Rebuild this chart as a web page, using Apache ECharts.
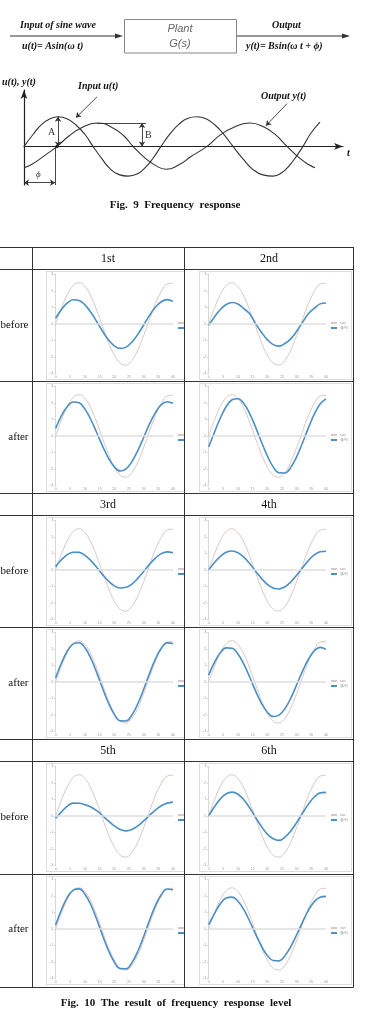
<!DOCTYPE html>
<html><head><meta charset="utf-8">
<script src="https://cdn.jsdelivr.net/npm/echarts@6/dist/echarts.min.js"></script>
<style>
html,body{margin:0;padding:0;background:#fff;}
#main{position:absolute;left:0;top:0;width:377px;height:1024px;}
.clip{position:absolute;overflow:hidden;}
.inner{position:absolute;box-sizing:border-box;border:1px solid #dcdcdc;background:#fff;}
</style></head>
<body>
<div id="main"></div>
<div id="cells"></div>
<script>
// ---------- DATA ----------
// schematic (Fig. 9): time in px-like units from origin, amplitude in units of A
const inT  = [0, 9, 17, 26, 34, 43, 52, 61, 69, 78, 86, 95, 104, 113, 121, 129, 137, 146, 155, 164, 173, 182, 191, 200, 209, 219, 229, 239, 249, 258, 266, 273, 279, 287, 296];
const inU  = [0, 0.4, 0.72, 0.93, 1.0, 0.93, 0.72, 0.4, 0, -0.42, -0.75, -0.95, -1.0, -0.93, -0.72, -0.4, 0, 0.42, 0.75, 0.95, 1.0, 0.93, 0.72, 0.4, 0, -0.42, -0.78, -0.96, -1.0, -0.88, -0.62, -0.3, 0, 0.45, 0.82];
const outT = [0, 8, 16, 25, 33, 45, 58, 73, 88, 100, 109, 120, 131, 142, 155, 167, 183, 196, 211, 226, 240, 252, 263, 275, 285, 291];
const outY = [-0.72, -0.6, -0.42, -0.2, 0, 0.35, 0.64, 0.79, 0.64, 0.35, 0, -0.36, -0.63, -0.77, -0.62, -0.34, 0, 0.38, 0.66, 0.79, 0.65, 0.38, 0, -0.38, -0.62, -0.72];

// Fig. 10 small charts
const tSteps  = [0,2,4,6,8,10,12,14,16,18,20,22,24,26,28,30,32,34,36,38,40];
const refWave = [0, 0.97, 1.79, 2.33, 2.50, 2.27, 1.69, 0.84, -0.15, -1.11, -1.89, -2.38, -2.49, -2.21, -1.58, -0.70, 0.29, 1.24, 1.98, 2.42, 2.47];
const out1Before = [0.35, 0.88, 1.28, 1.47, 1.43, 1.16, 0.71, 0.15, -0.44, -0.96, -1.32, -1.48, -1.40, -1.10, -0.63, -0.06, 0.52, 1.01, 1.35, 1.48, 1.37];
const out1After  = [0.46, 1.24, 1.79, 2.06, 2.01, 1.63, 1.00, 0.21, -0.61, -1.34, -1.87, -2.12, -1.99, -1.55, -0.89, -0.09, 0.73, 1.42, 1.90, 2.08, 1.98];
const out2Before = [-0.08, 0.43, 0.88, 1.18, 1.30, 1.21, 0.93, 0.62, 0.02, -0.50, -0.95, -1.25, -1.34, -1.18, -0.90, -0.44, 0.10, 0.62, 0.95, 1.22, 1.27];
const out2After  = [-0.67, 0.23, 1.09, 1.79, 2.20, 2.26, 1.97, 1.36, 0.54, -0.36, -1.21, -1.87, -2.23, -2.24, -1.90, -1.26, -0.41, 0.49, 1.32, 1.94, 2.25];
const out3Before = [0.22, 0.62, 0.93, 1.08, 1.07, 0.89, 0.57, 0.16, -0.28, -0.67, -0.96, -1.09, -1.05, -0.85, -0.51, -0.09, 0.34, 0.72, 0.99, 1.10, 1.04];
const out3After  = [0.24, 1.15, 1.88, 2.31, 2.38, 2.07, 1.44, 0.57, -0.38, -1.27, -1.96, -2.35, -2.36, -2.00, -1.32, -0.44, 0.52, 1.39, 2.04, 2.37, 2.33];
const out4Before = [0, 0.45, 0.82, 1.07, 1.15, 1.05, 0.78, 0.39, -0.07, -0.51, -0.87, -1.09, -1.15, -1.02, -0.73, -0.32, 0.13, 0.57, 0.91, 1.11, 1.14];
const out4After  = [0.42, 1.19, 1.77, 2.07, 2.05, 1.70, 1.08, 0.30, -0.54, -1.29, -1.83, -2.09, -2.01, -1.62, -0.98, -0.17, 0.66, 1.38, 1.89, 2.10, 1.98];
const out5Before = [-0.14, 0.25, 0.60, 0.78, 0.77, 0.68, 0.55, 0.32, 0.02, -0.30, -0.60, -0.82, -0.90, -0.82, -0.60, -0.30, 0.04, 0.36, 0.62, 0.78, 0.84];
const out5After  = [0.24, 1.17, 1.92, 2.36, 2.43, 2.11, 1.47, 0.59, -0.39, -1.30, -2.00, -2.40, -2.41, -2.04, -1.35, -0.45, 0.53, 1.42, 2.08, 2.42, 2.38];
const out6Before = [0, 0.56, 1.04, 1.35, 1.45, 1.32, 0.98, 0.49, -0.08, -0.64, -1.10, -1.38, -1.48, -1.28, -0.91, -0.40, 0.17, 0.72, 1.15, 1.40, 1.43];
const out6After  = [0.26, 0.93, 1.53, 1.88, 1.93, 1.68, 1.17, 0.47, -0.31, -1.03, -1.60, -1.91, -1.93, -1.62, -1.07, -0.35, 0.42, 1.13, 1.66, 1.93, 1.98];
const colHeads = ['1st','2nd','3rd','4th','5th','6th'];
const rowHeads = ['before','after'];
const legendNames = ['raw','출력'];
const xTickStep = 5;

// ---------- MAIN (schematic + table) ----------
const main = echarts.init(document.getElementById('main'), null, {renderer:'canvas'});
const serifBI = 'italic bold 10px "Liberation Serif"';
const g = [];
function txt(text,x,y,font,opt){ g.push({type:'text',silent:true,style:{text:text,x:x,y:y,font:font,fill:'#111',textAlign:'left',textVerticalAlign:'middle'}});
  if(opt) Object.assign(g[g.length-1].style,opt); }
function ln(x1,y1,x2,y2,c,w){ g.push({type:'line',silent:true,shape:{x1:x1,y1:y1,x2:x2,y2:y2},style:{stroke:c||'#333',lineWidth:w||1}}); }
// block diagram
ln(10,36,117,36,'#333',1);
g.push({type:'polygon',silent:true,shape:{points:[[123,36],[115,33.5],[115,38.5]]},style:{fill:'#333'}});
g.push({type:'rect',silent:true,shape:{x:124.5,y:19.5,width:112,height:33.5},style:{fill:'none',stroke:'#888',lineWidth:1}});
ln(237,36,344,36,'#333',1);
g.push({type:'polygon',silent:true,shape:{points:[[350,36],[342,33.5],[342,38.5]]},style:{fill:'#333'}});
txt('Input of sine wave',20,25.5,serifBI);
txt('u(t)= Asin(ω t)',22,46.5,serifBI);
txt('Output',272,25,serifBI);
txt('y(t)= Bsin(ω t + ϕ)',246,46.5,serifBI);
txt('Plant',180,29,'italic 11px "Liberation Sans"',{textAlign:'center',fill:'#666'});
txt('G(s)',180,44,'italic 11px "Liberation Sans"',{textAlign:'center',fill:'#666'});
// schematic labels
txt('u(t), y(t)',2,82,serifBI);
txt('Input u(t)',78,86,serifBI);
txt('Output y(t)',261,96,serifBI);
txt('t',347,153,serifBI);
txt('A',48,132,'10px "Liberation Serif"',{fill:'#333'});
txt('B',145,135,'10px "Liberation Serif"',{fill:'#333'});
txt('ϕ',36,175,'italic 9px "Liberation Serif"',{fill:'#333'});
txt('Fig.  9  Frequency  response',175,205,'bold 11px "Liberation Serif"',{textAlign:'center'});
txt('Fig.  10  The  result  of  frequency  response  level',176,1003,'bold 11px "Liberation Serif"',{textAlign:'center'});
// table
const hLines=[247,269,381,493,515,627,739,761,874,987];
hLines.forEach(y=>ln(0,y+0.5,353.5,y+0.5,'#333',1));
[32,184,353].forEach(x=>ln(x+0.5,247,x+0.5,987.5,'#333',1));
const groupTop=[247,493,739];
groupTop.forEach((gy,i)=>{
  txt(colHeads[2*i],108,gy+12,'12px "Liberation Serif"',{textAlign:'center'});
  txt(colHeads[2*i+1],269,gy+12,'12px "Liberation Serif"',{textAlign:'center'});
  txt(rowHeads[0],28.5,gy+22+56,'11px "Liberation Serif"',{textAlign:'right'});
  txt(rowHeads[1],28.5,gy+22+112+56,'11px "Liberation Serif"',{textAlign:'right'});
});

main.setOption({
  animation:false,
  grid:[{left:24,top:90,width:319,height:95}],
  xAxis:[{type:'value',min:0,max:319,axisLine:{show:true,onZero:true,symbol:['none','arrow'],symbolSize:[5,9],lineStyle:{color:'#222',width:1.2}},axisTick:{show:false},axisLabel:{show:false},splitLine:{show:false}}],
  yAxis:[{type:'value',min:-1.3,max:1.9,axisLine:{show:true,symbol:['none','arrow'],symbolSize:[5,9],lineStyle:{color:'#222',width:1.2}},axisTick:{show:false},axisLabel:{show:false},splitLine:{show:false}}],
  series:[
    {type:'line',smooth:true,symbol:'none',data:inT.map((t,i)=>[t,inU[i]]),lineStyle:{color:'#333',width:1.1},
     markLine:{silent:true,animation:false,symbolSize:5,label:{show:false},lineStyle:{color:'#333',width:0.9,type:'solid'},
       data:[
         [{coord:[34,0],symbol:'arrow'},{coord:[34,1.0],symbol:'arrow'}],
         [{coord:[118,0],symbol:'arrow'},{coord:[118,0.79],symbol:'arrow'}],
         [{coord:[73,0.79],symbol:'none'},{coord:[122,0.79],symbol:'none'}],
         [{coord:[31,0],symbol:'none'},{coord:[31,-1.3],symbol:'none'}],
         [{coord:[0,-1.22],symbol:'arrow'},{coord:[31,-1.22],symbol:'arrow'}],
         [{coord:[73,1.67],symbol:'none'},{coord:[52,0.97],symbol:'arrow'}],
         [{coord:[263,1.44],symbol:'none'},{coord:[242,0.70],symbol:'arrow'}]
       ]}},
    {type:'line',smooth:true,symbol:'none',data:outT.map((t,i)=>[t,outY[i]]),lineStyle:{color:'#333',width:1.1},
     markPoint:{silent:true,symbol:'circle',symbolSize:3.5,itemStyle:{color:'#222'},label:{show:false},data:[{coord:[outT[4],outY[4]]}]}}
  ],
  graphic:g
});

// ---------- SMALL CHARTS ----------
const outs=[[out1Before,out2Before],[out1After,out2After],[out3Before,out4Before],[out3After,out4After],[out5Before,out6Before],[out5After,out6After]];
const rowTops=[269,381,515,627,761,874];
const cells=document.getElementById('cells');
rowTops.forEach((rt,r)=>{
  [0,1].forEach(c=>{
    const clip=document.createElement('div'); clip.className='clip';
    const cl = c===0?33:185, cw = c===0?151:168;
    clip.style.left=cl+'px'; clip.style.top=(rt+1)+'px'; clip.style.width=cw+'px'; clip.style.height='111px';
    const inner=document.createElement('div'); inner.className='inner';
    const il = c===0?45.5:199;
    inner.style.left=(il-cl)+'px'; inner.style.top='1px'; inner.style.width='153px'; inner.style.height='109px';
    clip.appendChild(inner); cells.appendChild(clip);
    const ch=echarts.init(inner,null,{renderer:'canvas'});
    const blue=outs[r][c];
    ch.setOption({
      animation:false,
      grid:{left:6,top:2.5,width:120,height:100},
      legend:{orient:'vertical',left:130,top:49,itemWidth:6,itemHeight:2,itemGap:1,padding:0,
        textStyle:{fontSize:3.5,color:'#999',padding:[0,0,0,-2]},data:legendNames},
      xAxis:{type:'value',min:0,max:40,interval:xTickStep,axisLine:{show:false},axisTick:{show:false},
        axisLabel:{fontSize:3.5,color:'#999',margin:1.5},splitLine:{show:false}},
      yAxis:{type:'value',min:-3,max:3,interval:1,axisLine:{show:true,onZero:false,lineStyle:{color:'#d8d8d8'}},
        axisTick:{show:true,length:1.5,lineStyle:{color:'#ccc'}},axisLabel:{fontSize:3.5,color:'#999',margin:2.5},splitLine:{show:false}},
      series:[
        {name:legendNames[0],type:'line',smooth:0.4,symbol:'none',data:tSteps.map((t,i)=>[t,refWave[i]]),
         lineStyle:{color:'#dcc6c6',width:1},itemStyle:{color:'#dcc6c6'},
         markLine:{silent:true,symbol:'none',label:{show:false},lineStyle:{color:'#dedede',width:1.5,type:'solid'},data:[{yAxis:0}]}},
        {name:legendNames[1],type:'line',smooth:0.4,symbol:'none',data:tSteps.map((t,i)=>[t,blue[i]]),
         lineStyle:{color:'#4b8fc4',width:1.6},itemStyle:{color:'#4b8fc4'}}
      ]
    });
  });
});
</script>
</body></html>
